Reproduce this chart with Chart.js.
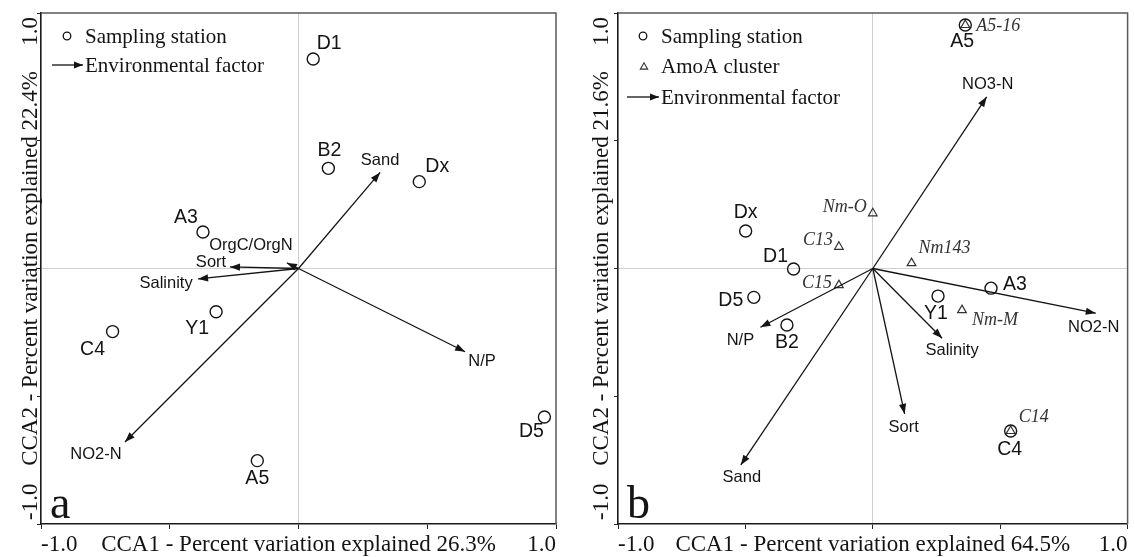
<!DOCTYPE html>
<html><head><meta charset="utf-8">
<script src="https://cdn.jsdelivr.net/npm/chart.js@4/dist/chart.umd.min.js"></script>
<style>
html,body{margin:0;padding:0;background:#fff;}
#wrap{position:relative;width:1135px;height:557px;overflow:hidden;}
.pane{position:absolute;top:0;height:557px;}
</style></head><body>
<div id="wrap">
  <div class="pane" style="left:0;width:567px"><canvas id="ca"></canvas></div>
  <div class="pane" style="left:567px;width:568px"><canvas id="cb"></canvas></div>
</div>
<script>
// ---------- Panel a data ----------
const stationsA  = ['D1','B2','Dx','A3','Y1','C4','D5','A5'];
const stationsAX = [0.057, 0.116, 0.469, -0.371, -0.320, -0.722, 0.955, -0.160];
const stationsAY = [0.820, 0.392, 0.340, 0.143, -0.169, -0.247, -0.581, -0.752];
const factorsA   = ['Sand','N/P','NO2-N','Salinity','Sort','OrgC/OrgN'];
const factorsAX  = [0.317, 0.647, -0.674, -0.390, -0.266, -0.045];
const factorsAY  = [0.376, -0.326, -0.679, -0.041, 0.006, 0.022];
const axisXTitleA = 'CCA1 - Percent variation explained 26.3%';
const axisYTitleA = 'CCA2 - Percent variation explained 22.4%';

// ---------- Panel b data ----------
const stationsB  = ['Dx','D1','A3','D5','Y1','B2','A5','C4'];
const stationsBX = [-0.499, -0.311, 0.464, -0.467, 0.256, -0.337, 0.363, 0.541];
const stationsBY = [0.147, -0.002, -0.077, -0.113, -0.108, -0.221, 0.953, -0.636];
const clustersB  = ['Nm-O','C13','Nm143','C15','Nm-M','A5-16','C14'];
const clustersBX = [0.000, -0.133, 0.152, -0.133, 0.350, 0.363, 0.541];
const clustersBY = [0.216, 0.085, 0.021, -0.065, -0.163, 0.953, -0.636];
const factorsB   = ['NO3-N','NO2-N','N/P','Salinity','Sort','Sand'];
const factorsBX  = [0.447, 0.875, -0.441, 0.272, 0.125, -0.518];
const factorsBY  = [0.672, -0.175, -0.230, -0.273, -0.569, -0.769];
const axisXTitleB = 'CCA1 - Percent variation explained 64.5%';
const axisYTitleB = 'CCA2 - Percent variation explained 21.6%';

// ---------- shared axis tick values / labels ----------
const tickMin = -1.0, tickMax = 1.0, tickStep = 0.5;
const tickMinLabel = '-1.0', tickMaxLabel = '1.0';

// ---------- styling (label placement offsets in px) ----------
const offStationsA = {D1:[16,-15],B2:[1,-18],Dx:[18,-15],A3:[-17,-14],Y1:[-19,17],C4:[-20,18],D5:[-13,15],A5:[0,18]};
const offFactorsA  = {'Sand':[0,-12],'N/P':[17,10],'NO2-N':[-29,12],'Salinity':[-32,4],'Sort':[-19,-5],'OrgC/OrgN':[-36,-17]};
const offStationsB = {Dx:[0,-18],D1:[-18,-12],A3:[24,-4],D5:[-23,3],Y1:[-2,18],B2:[0,18],A5:[-3,17],C4:[-1,19]};
const offClustersB = {'Nm-O':[-28,-6],'C13':[-21,-7],'Nm143':[33,-15],'C15':[-22,-2],'Nm-M':[33,10],'A5-16':[33,1],'C14':[23,-14]};
const offFactorsB  = {'NO3-N':[1,-12],'NO2-N':[-2,14],'N/P':[-20,13],'Salinity':[10,12],'Sort':[-1,14],'Sand':[1,12]};

const SERIF = '"Liberation Serif","Times New Roman",serif';
const SANS = '"Liberation Sans",Arial,sans-serif';
const INK = '#141414';

function arrowHead(ctx, x0, y0, x1, y1, len, half) {
  const a = Math.atan2(y1 - y0, x1 - x0);
  ctx.beginPath();
  ctx.moveTo(x1, y1);
  ctx.lineTo(x1 - len*Math.cos(a) + half*Math.sin(a), y1 - len*Math.sin(a) - half*Math.cos(a));
  ctx.lineTo(x1 - len*Math.cos(a) - half*Math.sin(a), y1 - len*Math.sin(a) + half*Math.cos(a));
  ctx.closePath();
  ctx.fill();
}

function drawTriangle(ctx, x, y, r) {
  ctx.beginPath();
  for (let k = 0; k < 3; k++) {
    const ang = -Math.PI/2 + k*2*Math.PI/3;
    const px = x + r*Math.cos(ang), py = y + r*Math.sin(ang);
    if (k === 0) ctx.moveTo(px, py); else ctx.lineTo(px, py);
  }
  ctx.closePath();
  ctx.stroke();
}

function buildChart(canvasId, p) {
  const datasets = [];
  p.factors.forEach((name, i) => {
    datasets.push({
      label: name, isArrow: true, showLine: true,
      data: [{x: 0, y: 0}, {x: p.fx[i], y: p.fy[i]}],
      borderColor: INK, borderWidth: 1.3, pointRadius: 0, pointHoverRadius: 0
    });
  });
  datasets.push({
    label: 'Sampling station', kind: 'station',
    data: p.stations.map((n, i) => ({x: p.sx[i], y: p.sy[i]})),
    pointStyle: 'circle', pointRadius: 6, borderColor: INK, borderWidth: 1.4,
    backgroundColor: 'rgba(0,0,0,0)'
  });
  if (p.clusters) {
    datasets.push({
      label: 'AmoA cluster', kind: 'cluster',
      data: p.clusters.map((n, i) => ({x: p.cx[i], y: p.cy[i]})),
      pointStyle: 'triangle', pointRadius: 5, borderColor: '#333', borderWidth: 1.2,
      backgroundColor: 'rgba(0,0,0,0)'
    });
  }

  const gridColor = c => (c.tick && c.tick.value === 0) ? '#cfcfcf' : 'rgba(0,0,0,0)';

  const overlay = {
    id: 'overlay',
    afterDatasetsDraw(chart) {
      const ctx = chart.ctx, area = chart.chartArea;
      const ys = chart.scales.y;
      ctx.save();
      // top & right frame
      ctx.strokeStyle = '#5a5a5a'; ctx.lineWidth = 1.5;
      ctx.beginPath();
      ctx.moveTo(area.left, area.top); ctx.lineTo(area.right, area.top); ctx.lineTo(area.right, area.bottom);
      ctx.stroke();
      // arrow heads
      ctx.fillStyle = INK;
      chart.data.datasets.forEach((ds, di) => {
        if (!ds.isArrow) return;
        const m = chart.getDatasetMeta(di);
        const a = m.data[0], b = m.data[1];
        arrowHead(ctx, a.x, a.y, b.x, b.y, 10, 3.6);
      });
      // labels
      ctx.textAlign = 'center'; ctx.textBaseline = 'middle';
      chart.data.datasets.forEach((ds, di) => {
        const m = chart.getDatasetMeta(di);
        if (ds.isArrow) {
          const b = m.data[1], off = p.offF[ds.label];
          ctx.font = '16.5px ' + SANS; ctx.fillStyle = INK;
          ctx.fillText(ds.label, b.x + off[0], b.y + off[1]);
        } else if (ds.kind === 'station') {
          ctx.font = '19.5px ' + SANS; ctx.fillStyle = INK;
          p.stations.forEach((n, i) => {
            const pt = m.data[i], off = p.offS[n];
            ctx.fillText(n, pt.x + off[0], pt.y + off[1]);
          });
        } else if (ds.kind === 'cluster') {
          ctx.font = 'italic 18px ' + SERIF; ctx.fillStyle = '#333';
          p.clusters.forEach((n, i) => {
            const pt = m.data[i], off = p.offC[n];
            ctx.fillText(n, pt.x + off[0], pt.y + off[1]);
          });
        }
      });
      // y axis texts (rotated)
      ctx.fillStyle = INK; ctx.font = '23px ' + SERIF; ctx.textBaseline = 'alphabetic';
      const bx = p.yTextX;
      const rot = (txt, y, align) => {
        ctx.save(); ctx.translate(bx, y); ctx.rotate(-Math.PI/2);
        ctx.textAlign = align; ctx.fillText(txt, 0, 0); ctx.restore();
      };
      rot(tickMaxLabel, ys.getPixelForValue(tickMax) + 4, 'right');
      rot(tickMinLabel, ys.getPixelForValue(tickMin) - 4, 'left');
      rot(p.yTitle, ys.getPixelForValue(0), 'center');
      // panel letter
      ctx.textAlign = 'left'; ctx.font = '46px ' + SERIF;
      ctx.fillText(p.letter, p.letterX, area.bottom - 6);
      // legend
      ctx.font = '21px ' + SERIF; ctx.textBaseline = 'middle';
      ctx.strokeStyle = INK; ctx.lineWidth = 1.3;
      p.legend.forEach(it => {
        if (it.sym === 'circle') {
          ctx.beginPath(); ctx.arc(it.sx, it.y, 3.8, 0, Math.PI*2); ctx.stroke();
        } else if (it.sym === 'triangle') {
          ctx.strokeStyle = '#333'; ctx.lineWidth = 1.1; drawTriangle(ctx, it.sx, it.y + 1, 4.2);
          ctx.strokeStyle = INK; ctx.lineWidth = 1.3;
        } else {
          ctx.beginPath(); ctx.moveTo(it.ax0, it.y); ctx.lineTo(it.ax1, it.y); ctx.stroke();
          arrowHead(ctx, it.ax0, it.y, it.ax1, it.y, 9, 3.4);
        }
        ctx.fillText(it.text, p.legendTextX, it.y + 1);
      });
      ctx.restore();
    }
  };

  return new Chart(document.getElementById(canvasId), {
    type: 'scatter',
    data: {datasets},
    options: {
      responsive: true, maintainAspectRatio: false, animation: false,
      devicePixelRatio: 1,
      events: [],
      layout: {padding: {left: 0, top: 13, right: p.padRight, bottom: 0}},
      plugins: {legend: {display: false}, tooltip: {enabled: false}, title: {display: false}},
      scales: {
        x: {
          type: 'linear', position: 'bottom', min: tickMin, max: tickMax,
          afterFit: s => { s.height = 33; },
          ticks: {
            stepSize: tickStep, autoSkip: false, maxRotation: 0, minRotation: 0, align: 'inner',
            padding: 2, color: INK, font: {family: SERIF, size: 23},
            callback: v => v === tickMin ? tickMinLabel : (v === tickMax ? tickMaxLabel : (v === 0 ? p.xTitle : ''))
          },
          grid: {color: gridColor, lineWidth: 1, tickColor: '#222', tickLength: 5, drawTicks: true},
          border: {color: '#1a1a1a', width: 1.6}
        },
        y: {
          type: 'linear', position: 'left', min: tickMin, max: tickMax,
          afterFit: s => { s.width = p.leftWidth; },
          ticks: {stepSize: tickStep, display: false},
          grid: {color: gridColor, lineWidth: 1, tickColor: '#222', tickLength: 4, drawTicks: true},
          border: {color: '#1a1a1a', width: 1.6}
        }
      }
    },
    plugins: [overlay]
  });
}

buildChart('ca', {
  stations: stationsA, sx: stationsAX, sy: stationsAY,
  factors: factorsA, fx: factorsAX, fy: factorsAY,
  offS: offStationsA, offF: offFactorsA,
  xTitle: axisXTitleA, yTitle: axisYTitleA,
  leftWidth: 41, padRight: 11, yTextX: 37, letter: 'a', letterX: 50,
  legendTextX: 85,
  legend: [
    {sym: 'circle', sx: 67, y: 36, text: 'Sampling station'},
    {sym: 'arrow', ax0: 52, ax1: 83, y: 65, text: 'Environmental factor'}
  ]
});

buildChart('cb', {
  stations: stationsB, sx: stationsBX, sy: stationsBY,
  clusters: clustersB, cx: clustersBX, cy: clustersBY,
  factors: factorsB, fx: factorsBX, fy: factorsBY,
  offS: offStationsB, offF: offFactorsB, offC: offClustersB,
  xTitle: axisXTitleB, yTitle: axisYTitleB,
  leftWidth: 51, padRight: 3, yTextX: 41, letter: 'b', letterX: 60,
  legendTextX: 94,
  legend: [
    {sym: 'circle', sx: 76, y: 36, text: 'Sampling station'},
    {sym: 'triangle', sx: 77, y: 66, text: 'AmoA cluster'},
    {sym: 'arrow', ax0: 60, ax1: 92, y: 97, text: 'Environmental factor'}
  ]
});
</script>
</body></html>
